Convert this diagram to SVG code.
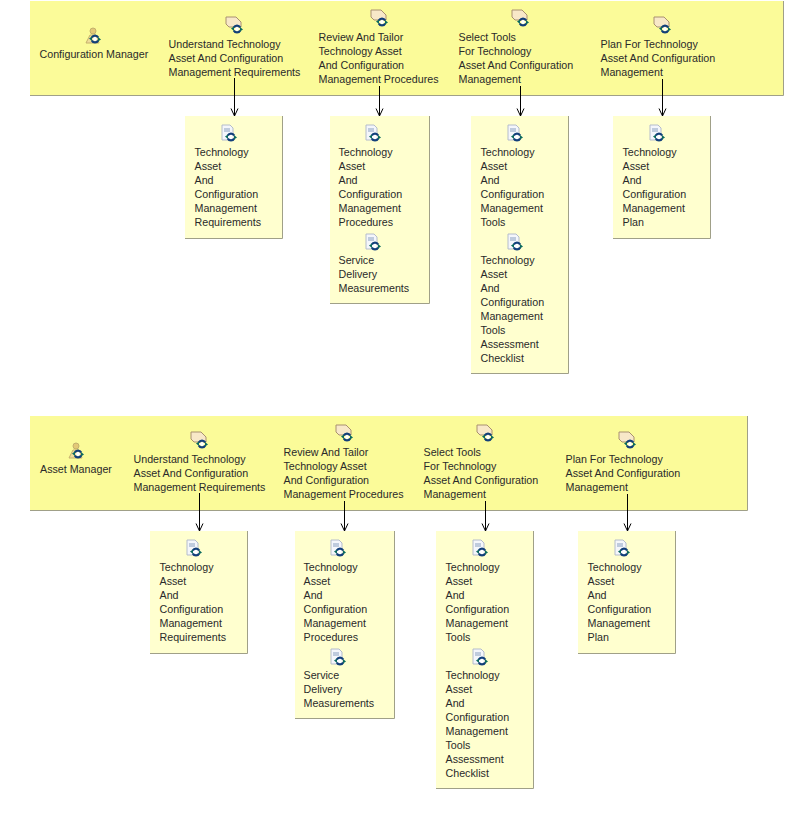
<svg xmlns="http://www.w3.org/2000/svg" width="803" height="831" viewBox="0 0 803 831">
<style>
text{font-family:"Liberation Sans",Arial,sans-serif;font-size:10.7px;fill:#2a2a2a}
.band{fill:#fbfb99;stroke:none}
.box{fill:#ffffcf;stroke:none}
.edge{fill:none;stroke:#a0a088;stroke-width:1}
.conn{fill:none;stroke:#000;stroke-width:1;marker-end:url(#arrow)}
</style>
<defs>
<marker id="arrow" markerUnits="userSpaceOnUse" markerWidth="10" markerHeight="10" refX="9" refY="5" orient="auto" viewBox="0 0 10 10"><path d="M1.500 1.500L9 5L1.500 8.500" fill="none" stroke="#000"/></marker>
<g id="sync"><circle cx="4" cy="4" r="2" fill="#fff"/><path d="M0.800 2.500A3.600 3.600 0 0 1 7.200 2.500M7.200 5.500A3.600 3.600 0 0 1 0.800 5.500" fill="none" stroke="#123f7a" stroke-width="2.200"/><path d="M-2 3.500L1 1.500L1 6ZM10 4.500L7 2L7 6.500Z" fill="#0c6a5e"/></g>
<g id="ic-role"><circle cx="-1" cy="-6" r="3" fill="#e3c977" stroke="#c4b06c"/><path d="M-8 6L-4 -2L2 -2L5 6Z" fill="#efdc9a" stroke="#c4b06c"/><use href="#sync" x="-3" y="-2"/></g>
<g id="ic-task"><path d="M-7 -9L3 -9L8 -4L8 1L-4 1L-7 -2Z" fill="#f8e8c8" stroke="#a89070"/><use href="#sync" x="0" y="-1"/></g>
<g id="ic-doc"><path d="M-7 -8L1 -8L4 -5L4 7L-7 7Z" fill="#f4f6fb" stroke="#b4bccb"/><path d="M-5 -4L1 -4M-5 -2L1 -2" stroke="#8aa0c0"/><use href="#sync" x="-2" y="0"/></g>
</defs>
<g id="band-1"><rect class="band" x="30" y="1" width="753" height="94"/><path class="edge" d="M30 95.500H783.500V1"/></g>
<g id="role-1"><use href="#ic-role" x="94" y="37"/><text x="39.500" y="58">Configuration Manager</text></g>
<g id="task-1-1"><use href="#ic-task" x="233" y="26"/><text x="168.500" y="48">Understand Technology</text><text x="168.500" y="62">Asset And Configuration</text><text x="168.500" y="76">Management Requirements</text></g>
<g id="task-1-2"><use href="#ic-task" x="378" y="19"/><text x="318.500" y="41">Review And Tailor</text><text x="318.500" y="55">Technology Asset</text><text x="318.500" y="69">And Configuration</text><text x="318.500" y="83">Management Procedures</text></g>
<g id="task-1-3"><use href="#ic-task" x="519" y="19"/><text x="458.500" y="41">Select Tools</text><text x="458.500" y="55">For Technology</text><text x="458.500" y="69">Asset And Configuration</text><text x="458.500" y="83">Management</text></g>
<g id="task-1-4"><use href="#ic-task" x="661" y="26"/><text x="600.500" y="48">Plan For Technology</text><text x="600.500" y="62">Asset And Configuration</text><text x="600.500" y="76">Management</text></g>
<g id="out-1-1"><rect class="box" x="185" y="116" width="97" height="122"/><path class="edge" d="M185 238.500H282.500V116"/><use href="#ic-doc" x="229" y="133"/><text x="194.500" y="156">Technology</text><text x="194.500" y="170">Asset</text><text x="194.500" y="184">And</text><text x="194.500" y="198">Configuration</text><text x="194.500" y="212">Management</text><text x="194.500" y="226">Requirements</text></g>
<g id="out-1-2"><rect class="box" x="330" y="116" width="99" height="187"/><path class="edge" d="M330 303.500H429.500V116"/><use href="#ic-doc" x="373" y="133"/><text x="338.500" y="156">Technology</text><text x="338.500" y="170">Asset</text><text x="338.500" y="184">And</text><text x="338.500" y="198">Configuration</text><text x="338.500" y="212">Management</text><text x="338.500" y="226">Procedures</text><use href="#ic-doc" x="373" y="242"/><text x="338.500" y="264">Service</text><text x="338.500" y="278">Delivery</text><text x="338.500" y="292">Measurements</text></g>
<g id="out-1-3"><rect class="box" x="471" y="116" width="97" height="257"/><path class="edge" d="M471 373.500H568.500V116"/><use href="#ic-doc" x="515" y="133"/><text x="480.500" y="156">Technology</text><text x="480.500" y="170">Asset</text><text x="480.500" y="184">And</text><text x="480.500" y="198">Configuration</text><text x="480.500" y="212">Management</text><text x="480.500" y="226">Tools</text><use href="#ic-doc" x="515" y="242"/><text x="480.500" y="264">Technology</text><text x="480.500" y="278">Asset</text><text x="480.500" y="292">And</text><text x="480.500" y="306">Configuration</text><text x="480.500" y="320">Management</text><text x="480.500" y="334">Tools</text><text x="480.500" y="348">Assessment</text><text x="480.500" y="362">Checklist</text></g>
<g id="out-1-4"><rect class="box" x="613" y="116" width="97" height="122"/><path class="edge" d="M613 238.500H710.500V116"/><use href="#ic-doc" x="657" y="133"/><text x="622.500" y="156">Technology</text><text x="622.500" y="170">Asset</text><text x="622.500" y="184">And</text><text x="622.500" y="198">Configuration</text><text x="622.500" y="212">Management</text><text x="622.500" y="226">Plan</text></g>
<g id="band-2"><rect class="band" x="30" y="416" width="717" height="94"/><path class="edge" d="M30 510.500H747.500V416"/></g>
<g id="role-2"><use href="#ic-role" x="77" y="452"/><text x="40" y="473">Asset Manager</text></g>
<g id="task-2-1"><use href="#ic-task" x="198" y="441"/><text x="133.500" y="463">Understand Technology</text><text x="133.500" y="477">Asset And Configuration</text><text x="133.500" y="491">Management Requirements</text></g>
<g id="task-2-2"><use href="#ic-task" x="343" y="434"/><text x="283.500" y="456">Review And Tailor</text><text x="283.500" y="470">Technology Asset</text><text x="283.500" y="484">And Configuration</text><text x="283.500" y="498">Management Procedures</text></g>
<g id="task-2-3"><use href="#ic-task" x="484" y="434"/><text x="423.500" y="456">Select Tools</text><text x="423.500" y="470">For Technology</text><text x="423.500" y="484">Asset And Configuration</text><text x="423.500" y="498">Management</text></g>
<g id="task-2-4"><use href="#ic-task" x="626" y="441"/><text x="565.500" y="463">Plan For Technology</text><text x="565.500" y="477">Asset And Configuration</text><text x="565.500" y="491">Management</text></g>
<g id="out-2-1"><rect class="box" x="150" y="531" width="97" height="122"/><path class="edge" d="M150 653.500H247.500V531"/><use href="#ic-doc" x="194" y="548"/><text x="159.500" y="571">Technology</text><text x="159.500" y="585">Asset</text><text x="159.500" y="599">And</text><text x="159.500" y="613">Configuration</text><text x="159.500" y="627">Management</text><text x="159.500" y="641">Requirements</text></g>
<g id="out-2-2"><rect class="box" x="295" y="531" width="99" height="187"/><path class="edge" d="M295 718.500H394.500V531"/><use href="#ic-doc" x="338" y="548"/><text x="303.500" y="571">Technology</text><text x="303.500" y="585">Asset</text><text x="303.500" y="599">And</text><text x="303.500" y="613">Configuration</text><text x="303.500" y="627">Management</text><text x="303.500" y="641">Procedures</text><use href="#ic-doc" x="338" y="657"/><text x="303.500" y="679">Service</text><text x="303.500" y="693">Delivery</text><text x="303.500" y="707">Measurements</text></g>
<g id="out-2-3"><rect class="box" x="436" y="531" width="97" height="257"/><path class="edge" d="M436 788.500H533.500V531"/><use href="#ic-doc" x="480" y="548"/><text x="445.500" y="571">Technology</text><text x="445.500" y="585">Asset</text><text x="445.500" y="599">And</text><text x="445.500" y="613">Configuration</text><text x="445.500" y="627">Management</text><text x="445.500" y="641">Tools</text><use href="#ic-doc" x="480" y="657"/><text x="445.500" y="679">Technology</text><text x="445.500" y="693">Asset</text><text x="445.500" y="707">And</text><text x="445.500" y="721">Configuration</text><text x="445.500" y="735">Management</text><text x="445.500" y="749">Tools</text><text x="445.500" y="763">Assessment</text><text x="445.500" y="777">Checklist</text></g>
<g id="out-2-4"><rect class="box" x="578" y="531" width="97" height="122"/><path class="edge" d="M578 653.500H675.500V531"/><use href="#ic-doc" x="622" y="548"/><text x="587.500" y="571">Technology</text><text x="587.500" y="585">Asset</text><text x="587.500" y="599">And</text><text x="587.500" y="613">Configuration</text><text x="587.500" y="627">Management</text><text x="587.500" y="641">Plan</text></g>
<g id="connectors">
<path class="conn" d="M234.500 78V116"/><path class="conn" d="M379.500 86V116"/><path class="conn" d="M520.500 86V116"/><path class="conn" d="M662.500 79V116"/>
<path class="conn" d="M199.500 493V531"/><path class="conn" d="M344.500 501V531"/><path class="conn" d="M485.500 501V531"/><path class="conn" d="M627.500 494V531"/>
</g>
</svg>
